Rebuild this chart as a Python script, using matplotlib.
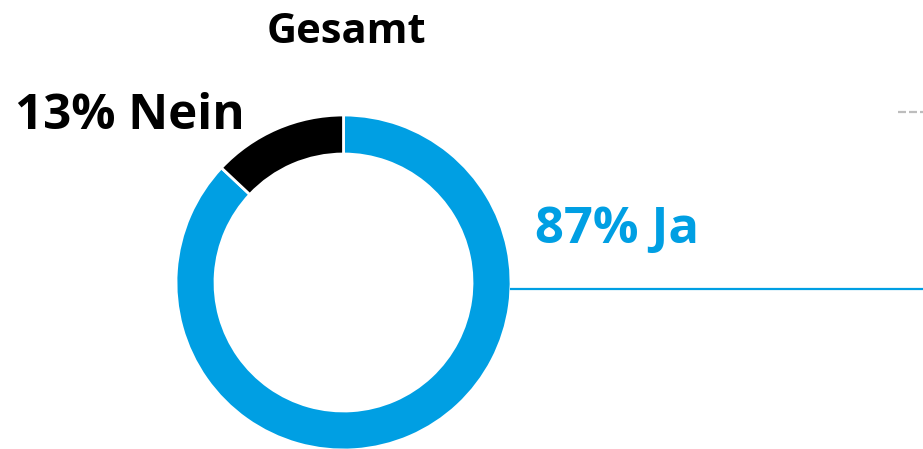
import matplotlib
matplotlib.use("Agg")
import matplotlib.pyplot as plt

# Data
categories = ["Ja", "Nein"]
values = [87, 13]
colors = ["#009fe3", "#000000"]
title = "Gesamt"
label_ja = "87% Ja"
label_nein = "13% Nein"

W, H = 923, 449
fig = plt.figure(figsize=(W / 100, H / 100), dpi=100)
ax = fig.add_axes([0, 0, 1, 1])

cx, cy, R, ring = 343.5, H - 282.5, 167.5, 39
ax.pie(values, colors=colors, startangle=90, counterclock=False,
       center=(cx, cy), radius=R,
       wedgeprops=dict(width=ring, edgecolor="white", linewidth=2.0))

ax.set_xlim(0, W)
ax.set_ylim(0, H)
ax.set_aspect("equal")
ax.axis("off")

# connector line from donut to the right
ax.plot([cx + R - 1, W], [H - 288.7, H - 288.7], color="#009fe3", lw=1.6,
        solid_capstyle="butt")
# gray dashed line at top right
ax.plot([898, W], [H - 112, H - 112], color="#bdbdbd", lw=1.6,
        dashes=(3.6, 1.35), dash_capstyle="butt")

font = "Open Sans"
ax.text(346, H - 42.7, title, ha="center", va="baseline", fontsize=30,
        fontweight="bold", family=font, color="black")
ax.text(15, H - 129, label_nein, ha="left", va="baseline", fontsize=35.5,
        fontweight="bold", family=font, color="black")
ax.text(535, H - 243, label_ja, ha="left", va="baseline", fontsize=36.5,
        fontweight="bold", family=font, color="#009fe3")

fig.savefig("out.png", dpi=100)
